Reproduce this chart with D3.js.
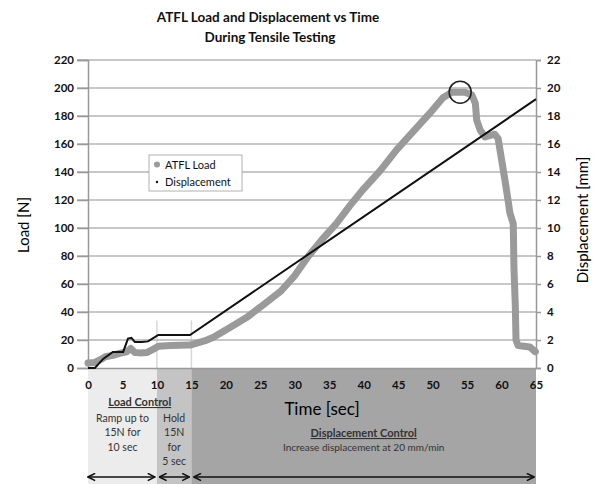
<!DOCTYPE html>
<html>
<head>
<meta charset="utf-8">
<script src="https://cdn.jsdelivr.net/npm/d3@7"></script>
<style>
  body { margin: 0; background: #fff; }
  svg { font-family: Lato, "Open Sans", sans-serif; }
</style>
</head>
<body>
<div class="canvas"></div>
<script>
// ATFL load curve (sec, N)
const loadTime = [0, 1, 2, 2.5, 3.6, 4.6, 5.6, 6.2, 6.8, 7.5, 8.5, 9.5, 10.2, 12, 14.8, 15.8, 17, 18.2, 20.6, 23, 25.4, 28, 30, 32, 34, 36, 38, 40, 42.4, 44.8, 47.2, 49.6, 51.5, 52.8, 54.7, 55.7, 56.2, 56.4, 56.9, 57.6, 59, 59.5, 60, 60.5, 61, 61.2, 61.7, 61.8, 62, 62.1, 62.4, 64.1, 64.9];
const loadValues = [3.5, 4, 6.5, 8, 9, 10.5, 11.5, 14, 11, 10.8, 11, 13.5, 15.5, 16, 16.4, 17.8, 19.5, 22, 29, 36, 45, 55, 66, 80, 92, 103, 116, 128, 141, 156, 169, 182, 193, 197, 197, 195, 189, 177, 170, 165, 167, 164, 149, 134, 118, 111, 103, 72, 44, 20, 16, 15, 11.6];

// displacement (sec, mm)
const dispTime = [0, 1, 2.2, 3.6, 5.1, 5.8, 6.3, 6.8, 7.8, 8.7, 9.7, 10.2, 14.8, 65];
const dispValues = [0, 0, 0.65, 1.15, 1.15, 2.1, 2.15, 1.85, 1.85, 1.9, 2.2, 2.36, 2.36, 19.2];

const xTicks = [0, 5, 10, 15, 20, 25, 30, 35, 40, 45, 50, 55, 60, 65];
const loadTicks = [0, 20, 40, 60, 80, 100, 120, 140, 160, 180, 200, 220];
const dispTicks = [0, 2, 4, 6, 8, 10, 12, 14, 16, 18, 20, 22];

const peak = { t: 54, load: 197 };

const phaseStart = [0, 10, 15];
const phaseEnd = [10, 15, 65];

const svg = d3.select('.canvas').append('svg')
    .attr('width', 598)
    .attr('height', 484);

const margin = { left: 88, top: 60, right: 62, bottom: 116 };
const graphWidth = 598 - margin.left - margin.right;
const graphHeight = 484 - margin.top - margin.bottom;

const x = d3.scaleLinear().domain([0, 65]).range([0, graphWidth]);
const y = d3.scaleLinear().domain([0, 220]).range([graphHeight, 0]);
const y2 = d3.scaleLinear().domain([0, 22]).range([graphHeight, 0]);

const graph = svg.append('g')
    .attr('transform', `translate(${margin.left},${margin.top})`);

// shaded phase boxes under the x axis
const phaseFill = ['#ececec', '#c4c4c4', '#a5a5a5'];
graph.selectAll('rect.phase')
    .data(phaseStart)
    .enter().append('rect')
    .attr('class', 'phase')
    .attr('x', (d, i) => x(d))
    .attr('y', graphHeight)
    .attr('width', (d, i) => x(phaseEnd[i]) - x(d))
    .attr('height', 484 - margin.top - graphHeight)
    .attr('fill', (d, i) => phaseFill[i]);

// faint phase borders poking up into the plot
graph.selectAll('line.phaseEdge')
    .data([10, 15])
    .enter().append('line')
    .attr('x1', d => x(d)).attr('x2', d => x(d))
    .attr('y1', y(34)).attr('y2', graphHeight)
    .attr('stroke', '#d8d8d8')
    .attr('stroke-width', 1.5);

// grid
graph.selectAll('line.grid')
    .data(loadTicks.filter(d => d > 0))
    .enter().append('line')
    .attr('x1', -11).attr('x2', graphWidth)
    .attr('y1', d => y(d)).attr('y2', d => y(d))
    .attr('stroke', '#b4b4b4')
    .attr('stroke-width', 1.5);

// axes
const yAxis = d3.axisLeft(y).tickValues(loadTicks).tickSize(11).tickPadding(3);
const y2Axis = d3.axisRight(y2).tickValues(dispTicks).tickSize(5).tickPadding(6);
const xAxis = d3.axisBottom(x).tickValues(xTicks).tickSize(0).tickPadding(13);

const yAxisGroup = graph.append('g').call(yAxis);
const y2AxisGroup = graph.append('g').attr('transform', `translate(${graphWidth},0)`).call(y2Axis);
const xAxisGroup = graph.append('g').attr('transform', `translate(0,${graphHeight})`).call(xAxis);

[yAxisGroup, y2AxisGroup, xAxisGroup].forEach(g => {
    g.selectAll('path.domain').attr('stroke', '#999').attr('stroke-width', 1.5);
    g.selectAll('line').attr('stroke', '#999').attr('stroke-width', 1.5);
    g.selectAll('text')
        .attr('font-family', 'Lato, sans-serif')
        .attr('font-size', 11.5)
        .attr('font-weight', 'bold')
        .attr('fill', '#111');
});

// load curve
graph.append('path')
    .datum(loadValues)
    .attr('d', d3.line().x((d, i) => x(loadTime[i])).y(d => y(d)))
    .attr('fill', 'none')
    .attr('stroke', '#9a9a9a')
    .attr('stroke-width', 7)
    .attr('stroke-linejoin', 'round')
    .attr('stroke-linecap', 'round');

// displacement line
graph.append('path')
    .datum(dispValues)
    .attr('d', d3.line().x((d, i) => x(dispTime[i])).y(d => y2(d)))
    .attr('fill', 'none')
    .attr('stroke', '#111')
    .attr('stroke-width', 2);

// peak circle
graph.append('circle')
    .attr('cx', x(peak.t))
    .attr('cy', y(peak.load))
    .attr('r', 11)
    .attr('fill', 'none')
    .attr('stroke', '#222')
    .attr('stroke-width', 1.6);

// legend
const legend = svg.append('g').attr('transform', 'translate(149,155)');
legend.append('rect')
    .attr('width', 93).attr('height', 36)
    .attr('fill', '#fff')
    .attr('stroke', '#b0b0b0');
legend.append('circle').attr('cx', 8).attr('cy', 9.5).attr('r', 3).attr('fill', '#9a9a9a');
legend.append('circle').attr('cx', 8).attr('cy', 27).attr('r', 1.2).attr('fill', '#111');
legend.selectAll('text.leg')
    .data(['ATFL Load', 'Displacement'])
    .enter().append('text')
    .attr('x', 16)
    .attr('y', (d, i) => 13.5 + i * 17.5)
    .attr('font-size', 11)
    .attr('fill', '#111')
    .text(d => d);

// titles
svg.append('text')
    .attr('x', 268).attr('y', 22)
    .attr('text-anchor', 'middle')
    .attr('font-size', 13.5).attr('font-weight', 'bold').attr('fill', '#111')
    .text('ATFL Load and Displacement vs Time');
svg.append('text')
    .attr('x', 270).attr('y', 42)
    .attr('text-anchor', 'middle')
    .attr('font-size', 13.5).attr('font-weight', 'bold').attr('fill', '#111')
    .text('During Tensile Testing');

svg.append('text')
    .attr('transform', 'translate(29,225) rotate(-90)')
    .attr('text-anchor', 'middle')
    .attr('font-size', 15).attr('fill', '#000')
    .text('Load [N]');
svg.append('text')
    .attr('transform', 'translate(588,220) rotate(-90)')
    .attr('text-anchor', 'middle')
    .attr('font-size', 15).attr('fill', '#000')
    .text('Displacement [mm]');
svg.append('text')
    .attr('x', 322).attr('y', 415)
    .attr('text-anchor', 'middle')
    .attr('font-size', 17).attr('fill', '#000')
    .text('Time [sec]');

// phase annotations
const note = (tx, ty, lines, opts = {}) => {
    lines.forEach((s, i) => {
        svg.append('text')
            .attr('x', tx).attr('y', ty + i * 14.3)
            .attr('text-anchor', 'middle')
            .attr('font-size', opts.size || 10.5)
            .attr('font-weight', opts.bold ? 'bold' : 'normal')
            .attr('text-decoration', opts.underline ? 'underline' : 'none')
            .attr('fill', '#333')
            .text(s);
    });
};
const px = t => margin.left + x(t);
note(px(7.5), 406, ['Load Control'], { bold: true, underline: true, size: 11 });
note(px(5), 422, ['Ramp up to', '15N for', '10 sec']);
note(px(12.5), 422, ['Hold', '15N', 'for', '5 sec']);
note(px(40), 437, ['Displacement Control'], { bold: true, underline: true, size: 11 });
note(px(40), 451, ['Increase displacement at 20 mm/min'], { size: 10 });

// double headed arrows
const defs = svg.append('defs');
defs.append('marker')
    .attr('id', 'head')
    .attr('viewBox', '0 0 10 10')
    .attr('refX', 9).attr('refY', 5)
    .attr('markerWidth', 9).attr('markerHeight', 9)
    .attr('markerUnits', 'userSpaceOnUse')
    .attr('orient', 'auto-start-reverse')
    .append('path')
    .attr('d', 'M1,1 L9,5 L1,9')
    .attr('fill', 'none')
    .attr('stroke', '#111')
    .attr('stroke-width', 1.8);

svg.selectAll('line.arrow')
    .data(phaseStart)
    .enter().append('line')
    .attr('x1', (d, i) => px(d) + (i === 0 ? 0 : 2.5))
    .attr('x2', (d, i) => px(phaseEnd[i]) - 2)
    .attr('y1', 477).attr('y2', 477)
    .attr('stroke', '#111')
    .attr('stroke-width', 1.5)
    .attr('marker-start', 'url(#head)')
    .attr('marker-end', 'url(#head)');
</script>
</body>
</html>
